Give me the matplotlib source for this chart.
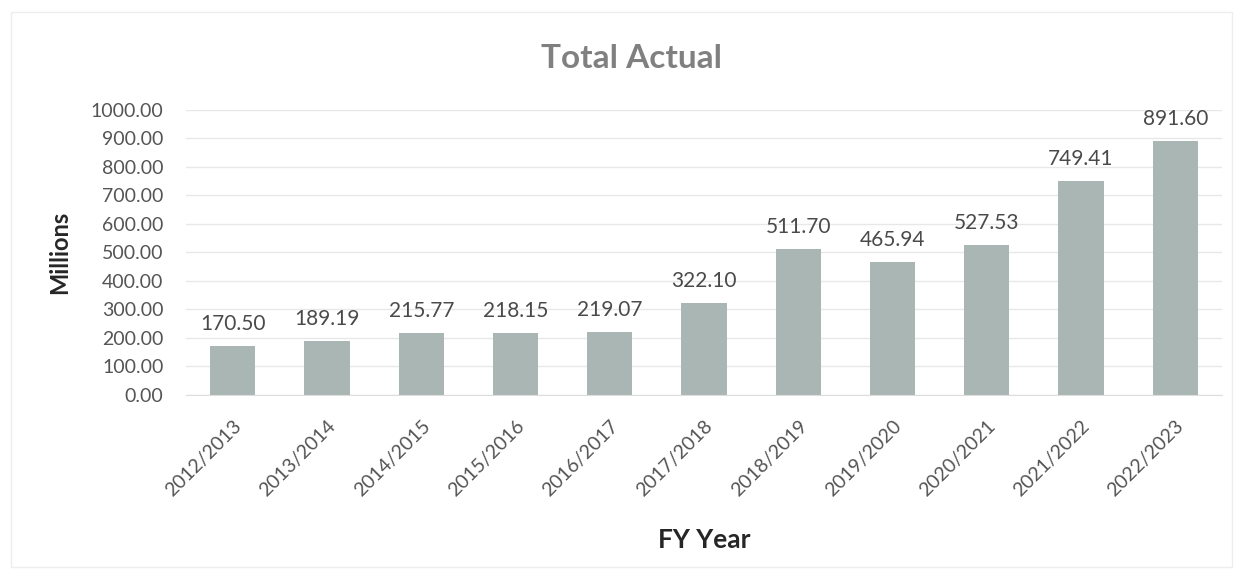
import matplotlib.pyplot as plt
import numpy as np
from matplotlib.patches import Rectangle

# values (millions)
years = ["2012/2013", "2013/2014", "2014/2015", "2015/2016", "2016/2017", "2017/2018",
         "2018/2019", "2019/2020", "2020/2021", "2021/2022", "2022/2023"]
actual = [170.50, 189.19, 215.77, 218.15, 219.07, 322.10,
          511.70, 465.94, 527.53, 749.41, 891.60]
yticks = [0, 100, 200, 300, 400, 500, 600, 700, 800, 900, 1000]

plt.rcParams['font.family'] = ['Lato', 'DejaVu Sans']

fig = plt.figure(figsize=(12.46, 5.85), dpi=100)
ax = fig.add_axes([0.149, 0.325, 0.832, 0.487])

x = np.arange(len(years))
ax.bar(x, actual, width=0.48, color="#aab6b3", zorder=2)

for xi, v in zip(x, actual):
    ax.text(xi, v + 42, "%.2f" % v, ha="center", va="bottom",
            fontsize=15, color="#4a4a4a")

ax.set_xlim(-0.5, len(years) - 0.5)
ax.set_ylim(0, 1000)
ax.set_yticks(yticks)
ax.set_yticklabels(["%.2f" % t for t in yticks], fontsize=14, color="#555555")
ax.set_xticks(x)
ax.set_xticklabels(years, rotation=45, ha="right", rotation_mode="anchor",
                   fontsize=14, color="#555555")
ax.tick_params(axis="y", length=0, pad=16)
ax.tick_params(axis="x", length=0, pad=16)
ax.grid(axis="y", color="#e8e8e8", lw=1, zorder=0)
for s in ["top", "right", "left"]:
    ax.spines[s].set_visible(False)
ax.spines["bottom"].set_color("#dddddd")

ax.set_title("Total Actual", fontsize=24, color="#808080", pad=30,
             fontweight="bold", x=0.43)
ax.set_xlabel("FY Year", fontsize=19, fontweight="bold", color="#262626", labelpad=21)
ax.set_ylabel("Millions", fontsize=17, fontweight="bold", color="#262626", labelpad=14)

# faint chart area border
fig.patches.append(Rectangle((0.009, 0.03), 0.98, 0.95, transform=fig.transFigure,
                             fill=False, ec="#eeeeee", lw=1))

fig.savefig("out.png", dpi=100)
